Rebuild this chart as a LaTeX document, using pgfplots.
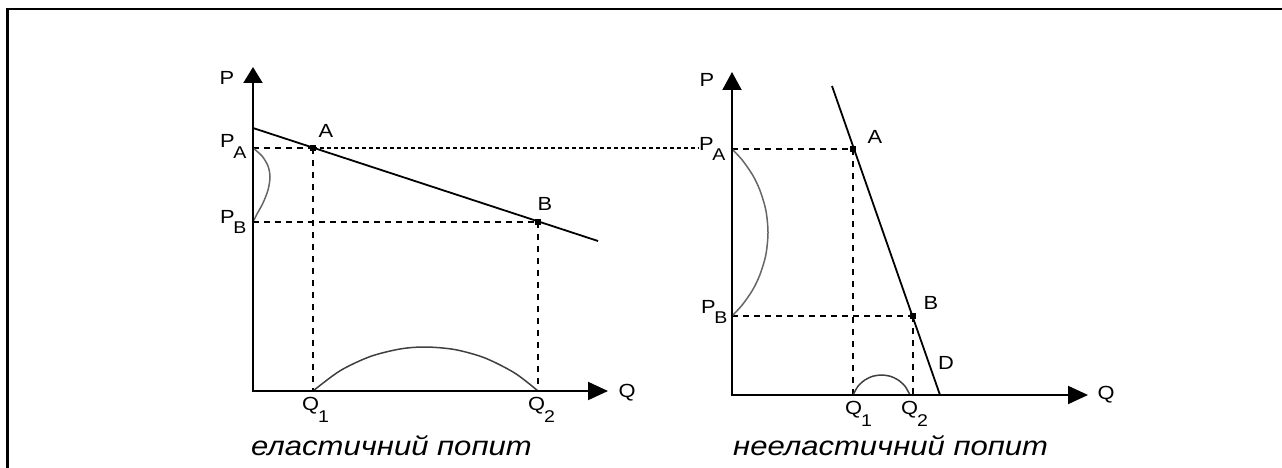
\documentclass[border=0pt]{standalone}
\usepackage{fontspec}
\setmainfont{Liberation Sans}
\newfontfamily\labfont[FakeStretch=1.15]{Liberation Sans}
\newfontfamily\capfont[FakeStretch=1.15]{Liberation Sans}
\usepackage{pgfplots}
\pgfplotsset{compat=1.18}
\usetikzlibrary{arrows.meta}
\newcommand\lab{\labfont\fontsize{19pt}{22pt}\selectfont}
\newcommand\sub{\labfont\fontsize{17pt}{20pt}\selectfont}
\newcommand\capt{\capfont\fontsize{27pt}{30pt}\selectfont\itshape}
\begin{document}
\begin{tikzpicture}
\begin{axis}[scale only axis, width=1282pt, height=468pt,
  xmin=0, xmax=1282, ymin=0, ymax=468, y dir=reverse,
  hide axis, clip=false]
% frame
\addplot[black, line width=2.2pt] coordinates {(7.5,468) (7.5,9) (1282,9)};
% ---------- left diagram ----------
\addplot[black, line width=1.4pt, dash pattern=on 6pt off 5pt] coordinates {(253,148) (313,148)};
\addplot[black, line width=1.4pt, dash pattern=on 4pt off 3pt] coordinates {(313,148) (699,148)};
\addplot[black, line width=1.4pt, dash pattern=on 6pt off 6pt] coordinates {(313,148) (313,391)};
\addplot[black, line width=1.4pt, dash pattern=on 6pt off 5pt] coordinates {(253,222) (538,222)};
\addplot[black, line width=1.4pt, dash pattern=on 6pt off 6pt] coordinates {(538,222) (538,391)};
\addplot[black!60, line width=1.5pt, smooth] coordinates {(253,148) (262,156) (268,166) (270,177) (268,190) (263,203) (257,214) (253,222)};
\addplot[black!75, line width=1.5pt, smooth] coordinates {(313,391) (340,370.8) (370,356.6) (400,349) (425.5,347) (455,349.6) (485,358) (515,373.2) (538,391)};
\addplot[black, line width=1.8pt] coordinates {(253,128) (598,241)};
\addplot[black, line width=2pt, -{Triangle[length=16pt,width=19pt]}] coordinates {(253,392) (253,67)};
\addplot[black, line width=2pt, -{Triangle[length=20pt,width=18pt]}] coordinates {(252,391) (608,391)};
\addplot[only marks, mark=square*, mark size=2.5pt, black] coordinates {(313,148) (538,222)};
\node[font=\lab, inner sep=0] at (axis cs:227,78) {P};
\node[font=\lab, inner sep=0] at (axis cs:627,393) {Q};
\node[font=\lab, inner sep=0] at (axis cs:326,131) {A};
\node[font=\lab, inner sep=0] at (axis cs:545,204) {B};
\node[font=\lab, inner sep=0, anchor=base west] at (axis cs:220,148) {P\kern-1.5pt\raisebox{-10pt}{\sub A}};
\node[font=\lab, inner sep=0, anchor=base west] at (axis cs:220,223) {P\kern-1.5pt\raisebox{-10pt}{\sub B}};
\node[font=\lab, inner sep=0, anchor=base west] at (axis cs:302,410) {Q\kern-1pt\raisebox{-12pt}{\sub 1}};
\node[font=\lab, inner sep=0, anchor=base west] at (axis cs:528,410) {Q\kern-1pt\raisebox{-12pt}{\sub 2}};
\node[font=\capt, inner sep=0, anchor=base west] at (axis cs:251,455) {еластичний попит};
% ---------- right diagram ----------
\addplot[black, line width=1.4pt, dash pattern=on 6pt off 5pt] coordinates {(732,149) (853,149)};
\addplot[black, line width=1.4pt, dash pattern=on 6pt off 6pt] coordinates {(853,149) (853,395)};
\addplot[black, line width=1.4pt, dash pattern=on 6pt off 5pt] coordinates {(732,316) (913,316)};
\addplot[black, line width=1.4pt, dash pattern=on 6pt off 6pt] coordinates {(913,316) (913,395)};
\addplot[black!60, line width=1.5pt, smooth] coordinates {(732,149) (742.2,160) (752.6,175) (759.8,190) (765.8,210) (768,232.5) (765.8,255) (759.8,275) (752.6,290) (742.2,305) (732,316)};
\addplot[black!75, line width=1.5pt, smooth] coordinates {(853,395) (858,386.2) (865,379.9) (873,376.2) (881.5,375) (890,376.2) (898,379.9) (905,386.2) (910,395)};
\addplot[black, line width=1.8pt] coordinates {(832,86) (940,395)};
\addplot[black, line width=2pt, -{Triangle[length=18pt,width=19pt]}] coordinates {(732,396) (732,72)};
\addplot[black, line width=2pt, -{Triangle[length=20pt,width=18pt]}] coordinates {(731,395) (1088,395)};
\addplot[only marks, mark=square*, mark size=2.5pt, black] coordinates {(853,149) (913,316)};
\node[font=\lab, inner sep=0] at (axis cs:707,80) {P};
\node[font=\lab, inner sep=0] at (axis cs:1106,395) {Q};
\node[font=\lab, inner sep=0] at (axis cs:875,137) {A};
\node[font=\lab, inner sep=0] at (axis cs:931,303) {B};
\node[font=\lab, inner sep=0] at (axis cs:946,363) {D};
\node[font=\lab, inner sep=0, anchor=base west] at (axis cs:699,150) {P\kern-1.5pt\raisebox{-10pt}{\sub A}};
\node[font=\lab, inner sep=0, anchor=base west] at (axis cs:701,313) {P\kern-1.5pt\raisebox{-10pt}{\sub B}};
\node[font=\lab, inner sep=0, anchor=base west] at (axis cs:845,414) {Q\kern-1pt\raisebox{-12pt}{\sub 1}};
\node[font=\lab, inner sep=0, anchor=base west] at (axis cs:901,414) {Q\kern-1pt\raisebox{-12pt}{\sub 2}};
\node[font=\capt, inner sep=0, anchor=base west] at (axis cs:733,455) {нееластичний попит};
\end{axis}
\pgfresetboundingbox
\path (0,0) rectangle (1282pt,468pt);
\end{tikzpicture}
\end{document}
